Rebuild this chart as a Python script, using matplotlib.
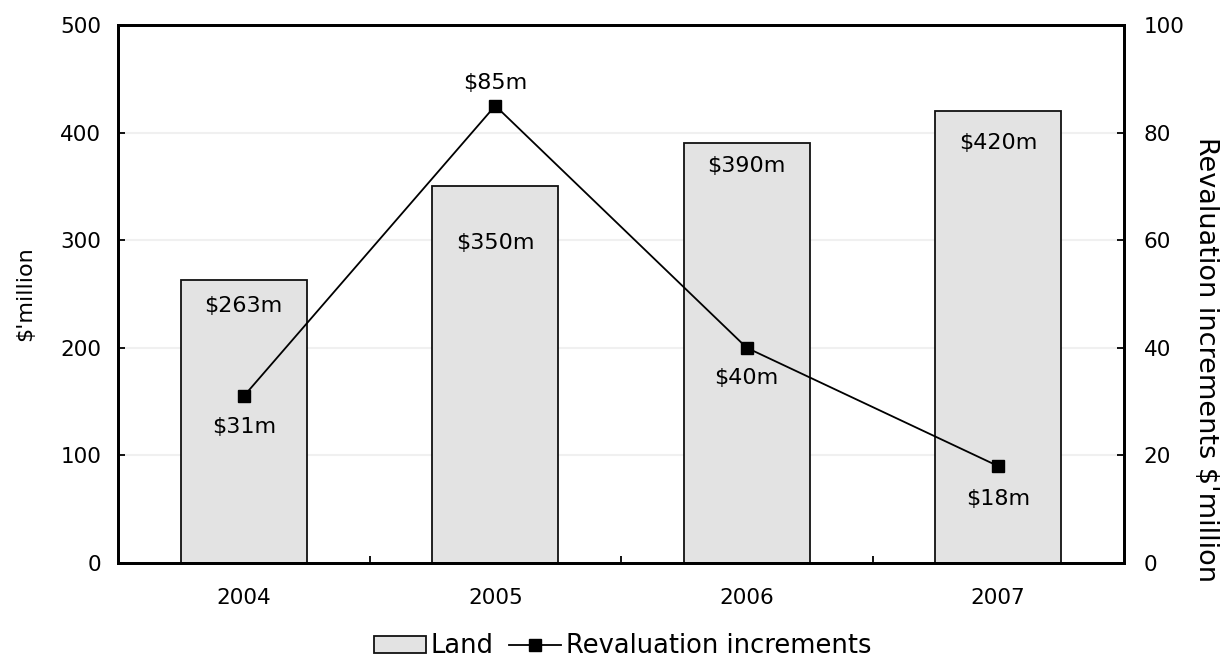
import numpy as np
import matplotlib.pyplot as plt
from matplotlib.ticker import MultipleLocator

years = ['2004', '2005', '2006', '2007']
land = [263, 350, 390, 420]
revaluation = [31, 85, 40, 18]
land_labels = ['$263m', '$350m', '$390m', '$420m']
reval_labels = ['$31m', '$85m', '$40m', '$18m']

# label offsets in points (placed by hand in the original chart)
land_offsets = [-18.5, -41, -16.5, -23]
reval_offsets = [-22, 16, -22, -24]

plt.rcParams['font.family'] = ['DejaVu Sans']
plt.rcParams['font.size'] = 15.5

fig = plt.figure(figsize=(12.21, 6.64), dpi=100)
ax = fig.add_axes([118 / 1221, 1 - 563 / 664, 1006 / 1221, 538 / 664])
ax2 = ax.twinx()

x = np.arange(len(years))
ax.bar(x, land, width=0.5, color='#e3e3e3', edgecolor='#111111', linewidth=1.3,
       label='Land', zorder=2)
ax.set_xlim(-0.5, len(years) - 0.5)
ax.set_ylim(0, 500)
ax.yaxis.set_major_locator(MultipleLocator(100))
ax.grid(axis='y', color='#f0f0f0', linewidth=1.5, zorder=0)
ax.set_axisbelow(True)
ax.set_xticks(x)
ax.set_xticklabels(years)
ax.set_xticks(np.arange(0.5, len(years) - 1, 1), minor=True)
ax.tick_params(axis='x', which='major', length=0, pad=18)
ax.tick_params(axis='x', which='minor', direction='in', length=5, width=1.3)
ax.tick_params(axis='y', direction='in', length=5, width=1.3, pad=12)
ax.set_ylabel("$'million", fontsize=16)
ax.yaxis.set_label_coords(-0.082, 0.5)

for xi, v, lab, off in zip(x, land, land_labels, land_offsets):
    ax.annotate(lab, (xi, v), xytext=(0, off), textcoords='offset points',
                ha='center', va='center', fontsize=16, zorder=5)

ax2.plot(x, revaluation, color='black', linewidth=1.3, marker='s',
         markersize=8, label='Revaluation increments', zorder=4)
ax2.set_ylim(0, 100)
ax2.yaxis.set_major_locator(MultipleLocator(20))
ax2.tick_params(axis='y', direction='in', length=5, width=1.3, pad=14)
ax2.set_ylabel('Revaluation increments $\'million', rotation=-90,
               fontsize=19.5, va='center')
ax2.yaxis.set_label_coords(1.082, 0.378)

for xi, v, lab, off in zip(x, revaluation, reval_labels, reval_offsets):
    ax2.annotate(lab, (xi, v), xytext=(0, off), textcoords='offset points',
                 ha='center', va='center', fontsize=16)

for a in (ax, ax2):
    for s in a.spines.values():
        s.set_linewidth(2)
        s.set_color('black')

h1, l1 = ax.get_legend_handles_labels()
h2, l2 = ax2.get_legend_handles_labels()
fig.legend(h1 + h2, l1 + l2, loc='lower center', bbox_to_anchor=(0.51, -0.028),
           ncol=2, frameon=False, fontsize=18.5, handlelength=2.0,
           handleheight=0.6, handletextpad=0.2, columnspacing=0.6)

fig.savefig('out.png', dpi=100)
